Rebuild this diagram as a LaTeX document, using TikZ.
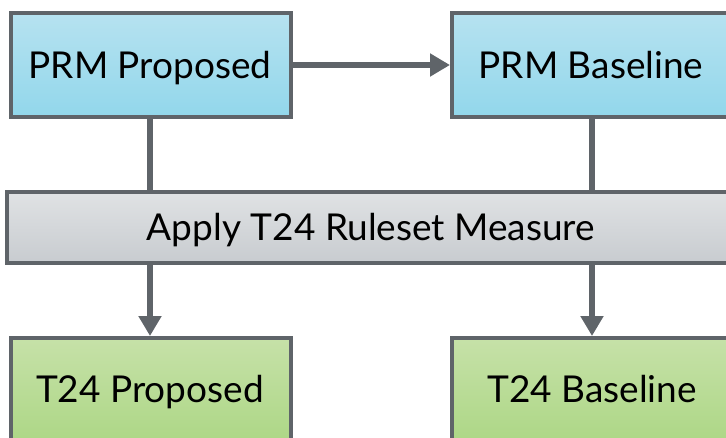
\documentclass[tikz,border=0pt]{standalone}
\usepackage{fontspec}
\setmainfont{Lato}
\usetikzlibrary{arrows.meta}
\definecolor{edgegray}{HTML}{5F6469}
\definecolor{bluetop}{HTML}{B6E2F0}
\definecolor{bluebot}{HTML}{92D7EB}
\definecolor{graytop}{HTML}{E0E2E4}
\definecolor{graybot}{HTML}{C8CCD0}
\definecolor{greentop}{HTML}{C6E1A8}
\definecolor{greenbot}{HTML}{ADD786}
\tikzset{
  box/.style={draw=edgegray, line width=4pt, rectangle, inner sep=0pt, font=\fontsize{37}{40}\selectfont, text=black},
  bluebox/.style={box, top color=bluetop, bottom color=bluebot, minimum width=280pt, minimum height=104pt},
  greenbox/.style={box, top color=greentop, bottom color=greenbot, minimum width=280pt, minimum height=104pt},
  graybox/.style={box, top color=graytop, bottom color=graybot, minimum width=730pt, minimum height=71pt},
  conn/.style={draw=edgegray, line width=6pt},
  arr/.style={conn, -{Triangle[length=20pt,width=22pt]}},
  lbl/.style={font=\fontsize{37}{40}\selectfont, text=black, inner sep=0pt, anchor=base},
}
\begin{document}
\begin{tikzpicture}[x=1pt,y=-1pt]
\useasboundingbox (0,0) rectangle (726,437);
\clip (0,0) rectangle (726,437);
\node[bluebox] (pp) at (151,65) {};
\node[bluebox] (pb) at (592,65) {};
\node[graybox] (ap) at (372,227) {};
\node[greenbox] (tp) at (151,390) {};
\node[greenbox] (tb) at (592,390) {};
\node[lbl] (tpp) at (150,78) {PRM Proposed};
\node[lbl] (tpb) at (591,78) {PRM Baseline};
\node[lbl] (tap) at (371,240) {Apply T24 Ruleset Measure};
\node[lbl] (ttp) at (150,402) {T24 Proposed};
\node[lbl] (ttb) at (592,402) {T24 Baseline};
\draw[arr] (pp.east) -- (pb.west);
\draw[conn] (pp.south -| 150,0) -- (ap.north -| 150,0);
\draw[conn] (pb.south -| 592,0) -- (ap.north -| 592,0);
\draw[arr] (ap.south -| 150,0) -- (tp.north -| 150,0);
\draw[arr] (ap.south -| 592,0) -- (tb.north -| 592,0);
\end{tikzpicture}
\end{document}
